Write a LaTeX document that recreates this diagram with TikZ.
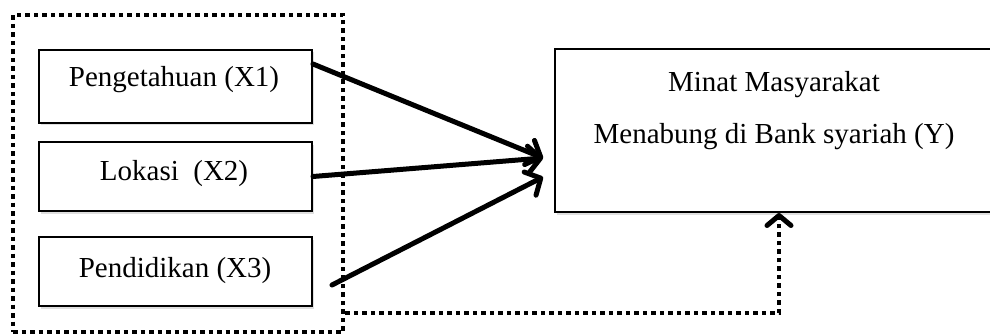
\documentclass[tikz,border=0pt]{standalone}
\usepackage{fontspec}
\setmainfont{Liberation Serif}
\usetikzlibrary{arrows.meta,shadows,calc}
\begin{document}
\begin{tikzpicture}[x=1pt,y=-1pt,
  varbox/.style={draw=black,line width=2pt,fill=white,inner sep=0pt,
    drop shadow={opacity=0.25,shadow xshift=1.5pt,shadow yshift=-2.5pt}},
  lbl/.style={font=\fontsize{29}{34}\selectfont,anchor=base,inner sep=0pt},
  solidarrow/.style={line width=5pt,line cap=round,
    -{Straight Barb[length=12pt,width=26pt,line width=5pt,round]}},
  dotline/.style={line width=4.5pt,dash pattern=on 4.5pt off 4pt},
  grpbox/.style={draw=black,dotline,inner sep=0pt}]
\useasboundingbox (0,0) rectangle (990,334);
% group (dotted) box
\node[grpbox,minimum width=330pt,minimum height=317pt] (grp) at (178,173.5) {};
% variable boxes
\node[varbox,minimum width=273pt,minimum height=73pt] (x1) at (175.5,86.5) {};
\node[varbox,minimum width=273pt,minimum height=69pt] (x2) at (175.5,176.5) {};
\node[varbox,minimum width=273pt,minimum height=69pt] (x3) at (175.5,271.5) {};
\node[varbox,minimum width=440pt,minimum height=163pt] (yb) at (775,130.5) {};
% labels
\node[lbl] (t1) at (174,87) {Pengetahuan (X1)};
\node[lbl] (t2) at (174,180) {Lokasi\ \ (X2)};
\node[lbl] (t3) at (175,277) {Pendidikan (X3)};
\node[lbl] (t4) at (774,92) {Minat Masyarakat};
\node[lbl] (t5) at (774,143) {Menabung di Bank syariah (Y)};
% coordinates
\coordinate (s1) at ($(x1.north east)!0.2!(x1.south east)$);
\coordinate (s3) at (332,285);
\coordinate (tipA) at (543,158);
\coordinate (tipB) at (543,177);
\coordinate (corner) at (779,313);
% arrows
\draw[solidarrow] (s1) -- (tipA);
\draw[solidarrow] (x2.east) -- (tipA);
\draw[solidarrow] (s3) -- (tipB);
% dotted arrow
\draw[dotline,-{Straight Barb[length=10pt,width=24pt,line width=5pt,round]}]
  (grp.east |- corner) -- (corner) -- (corner |- yb.south);
\end{tikzpicture}
\end{document}
